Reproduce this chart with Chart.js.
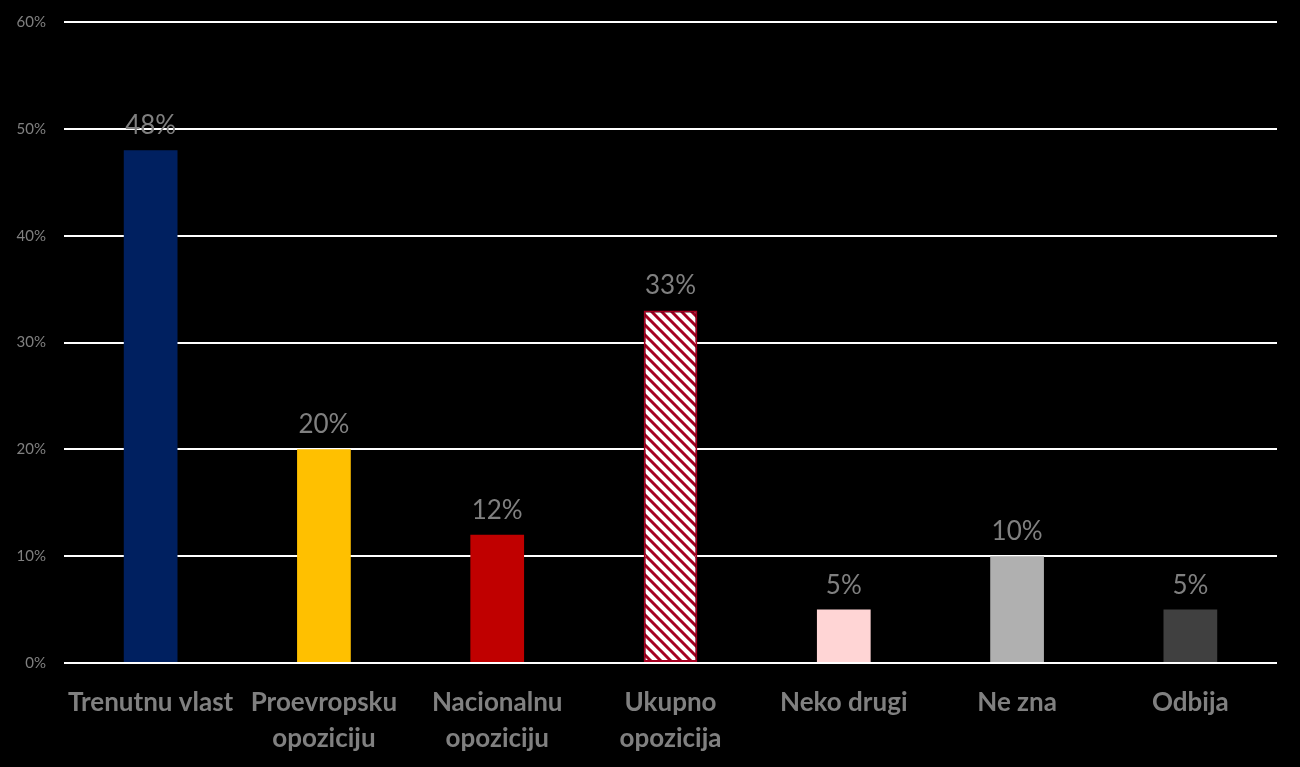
<!DOCTYPE html>
<html>
<head>
<meta charset="utf-8">
<script src="https://cdn.jsdelivr.net/npm/chart.js@4"></script>
<style>
    html, body { margin: 0; padding: 0; background: #000; }
    #wrap { width: 1300px; height: 767px; }
</style>
</head>
<body>
<div id="wrap"><canvas id="myChart"></canvas></div>
<script>
const categories = [
    "Trenutnu vlast",
    ["Proevropsku", "opoziciju"],
    ["Nacionalnu", "opoziciju"],
    ["Ukupno", "opozicija"],
    "Neko drugi",
    "Ne zna",
    "Odbija"
];
const values = [48, 20, 12, 33, 5, 10, 5];
const yTicks = [0, 10, 20, 30, 40, 50, 60];

// hatched fill for the "Ukupno opozicija" bar
let makeHatch = () => {
    const c = document.createElement("canvas");
    c.width = 10;
    c.height = 10;
    const g = c.getContext("2d");
    g.fillStyle = "#ffffff";
    g.fillRect(0, 0, 10, 10);
    g.strokeStyle = "#a50021";
    g.lineWidth = 3;
    g.beginPath();
    g.moveTo(-5, -5); g.lineTo(15, 15);
    g.moveTo(-5, 5); g.lineTo(5, 15);
    g.moveTo(5, -5); g.lineTo(15, 5);
    g.stroke();
    return g.createPattern(c, "repeat");
};

const barColors = ["#002060", "#ffc000", "#c00000", makeHatch(), "#ffd5d5", "#b0b0b0", "#404040"];
const borderColors = ["#002060", "#ffc000", "#c00000", "#a50021", "#ffd5d5", "#b0b0b0", "#404040"];

// value labels above each bar
const valueLabels = {
    id: "valueLabels",
    afterDatasetsDraw(chart) {
        const g = chart.ctx;
        const meta = chart.getDatasetMeta(0);
        g.save();
        g.font = "26px Lato";
        g.fillStyle = "#808080";
        g.textAlign = "center";
        g.textBaseline = "alphabetic";
        meta.data.forEach((bar, i) => {
            g.fillText(values[i] + "%", bar.x, bar.y - 16);
        });
        g.restore();
    }
};

const ctx = document.getElementById("myChart");

new Chart(ctx, {
    type: "bar",
    data: {
        labels: categories,
        datasets: [{
            data: values,
            backgroundColor: barColors,
            borderColor: borderColors,
            borderWidth: [0, 0, 0, 2, 0, 0, 0],
            borderSkipped: false,
            barPercentage: 0.62,
            categoryPercentage: 0.5
        }]
    },
    options: {
        responsive: true,
        maintainAspectRatio: false,
        animation: false,
        layout: {
            padding: { top: 22, right: 23, left: 0, bottom: 0 }
        },
        plugins: {
            legend: { display: false },
            tooltip: { enabled: false }
        },
        scales: {
            x: {
                grid: { display: false },
                border: { display: false },
                ticks: {
                    color: "#808080",
                    font: { family: "Lato", size: 26, weight: "bold", lineHeight: 1.38 },
                    padding: 14,
                    maxRotation: 0,
                    autoSkip: false
                },
                afterFit: (s) => { s.height = 104; }
            },
            y: {
                min: 0,
                max: 60,
                afterBuildTicks: (s) => { s.ticks = yTicks.map(v => ({ value: v })); },
                grid: { color: "#ffffff", lineWidth: 2, drawTicks: false },
                border: { display: false },
                ticks: {
                    color: "#808080",
                    font: { family: "Lato", size: 15 },
                    padding: 18,
                    callback: (v) => v + "%"
                },
                afterFit: (s) => {
                    s.width = 64;
                    s.paddingTop = 0;
                    s.paddingBottom = 0;
                }
            }
        }
    },
    plugins: [valueLabels]
});
</script>
</body>
</html>
